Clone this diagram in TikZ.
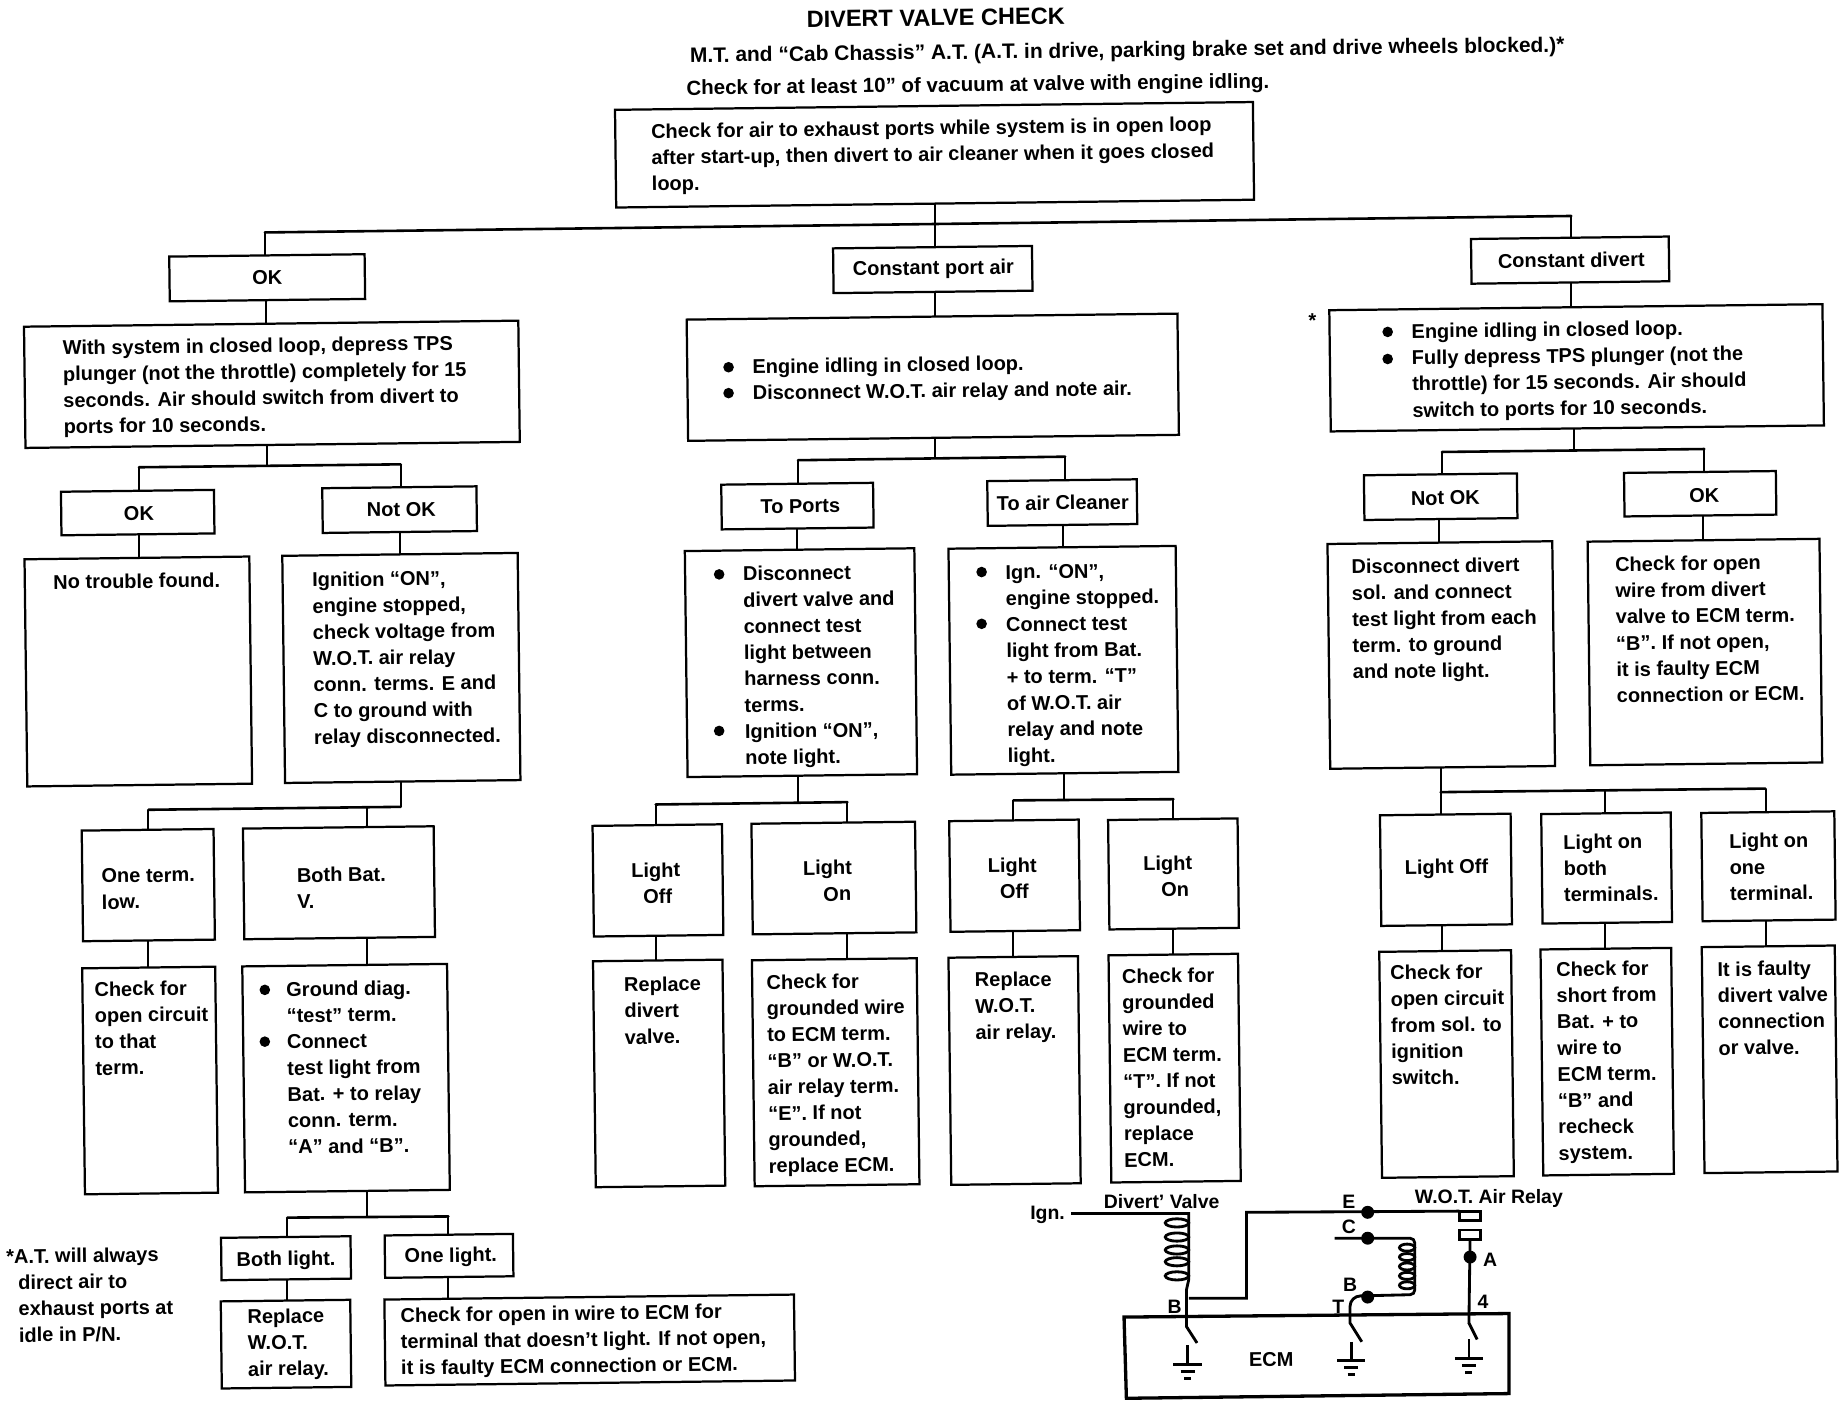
\documentclass[tikz,border=0pt]{standalone}
\usepackage{fontspec}
\setmainfont{Liberation Sans}
\usetikzlibrary{positioning,calc,backgrounds}
\tikzset{
  box/.style={draw,fill=white,line width=1.9pt,inner sep=0pt,anchor=center,rotate=0.7},
  wire/.style={line width=1.7pt},
  lbl/.style={inner sep=0pt,anchor=center,rotate=0.7,font=\fontsize{17}{22.3}\bfseries\selectfont},
  txt/.style={inner sep=0pt,anchor=north west,align=left,yshift=7pt,rotate=0.7,font=\fontsize{17}{22.3}\bfseries\selectfont},
  pin/.style={inner sep=0pt,anchor=center,font=\fontsize{16.5}{20}\bfseries\selectfont},
}
\begin{document}
\begin{tikzpicture}[x=1pt,y=-1pt]
  \useasboundingbox (0,0) rectangle (1565,1196);
  % heading
  \node[lbl,font=\fontsize{20}{22}\bfseries\selectfont] (title) at (795,15) {DIVERT VALVE CHECK};
  \node[txt,font=\fontsize{17.8}{22}\bfseries\selectfont] (subA) at (586,47) {M.T. and “Cab Chassis” A.T. (A.T. in drive, parking brake set and drive wheels blocked.)*};
  \node[txt,font=\fontsize{17.4}{22}\bfseries\selectfont] (subB) at (583,75) {Check for at least 10” of vacuum at valve with engine idling.};
  % boxes
  \foreach \nm/\xa/\ya/\xb/\yb in {root/523/90/1065/173,
    okA/144/217/310/255, cport/708/210/877/248, cdiv/1250/202/1418/240,
    sysA/21/275/441/378, engA/584/269/1001/372, engB/1130/261/1549/364,
    okB/52/417/182/454, nokA/274/414/405/452, toport/613/411/742/449, toair/839/408/966/446, nokB/1159/403/1289/441, okC/1380/401/1509/438,
    notrb/22/474/213/667, ignA/241/471/441/664, discA/583/467/778/659, ignB/807/465/1000/657, discB/1129/461/1320/652, opnA/1350/459/1547/649,
    oneA/70/705/182/799, bothA/207/703/369/797, offA/504/701/614/795, onA/639/699/778/793, offB/807/697/917/791, onB/942/696/1052/789, offC/1173/692/1284/786, onC/1310/691/1420/784, onD/1446/690/1559/782,
    circA/71/822/184/1014, gndA/207/820/381/1012, repA/505/816/615/1008, grdA/640/815/780/1007, repB/807/813/917/1006, grdB/943/811/1053/1004, circB/1173/808/1285/1000, shrt/1310/806/1421/998, faul/1447/804/1560/996,
    blgt/188/1051/298/1087, olgt/327/1049/436/1085, repC/188/1105/298/1179, opnB/327/1102/675/1175} {
    \node[box,minimum width={(\xb-\xa)*1pt},minimum height={(\yb-\ya)*1pt}] (\nm) at ({(\xa+\xb)/2},{(\ya+\yb)/2}) {};
  }
  % short labels
  \foreach \nm/\xa/\ya/\lab in {okAt/227/236/OK, cportt/793/229/Constant port air, cdivt/1335/221/Constant divert,
    okBt/118/436/OK, nokAt/341/433/Not OK, toportt/680/430/To Ports, toairt/903/427/To air Cleaner, nokBt/1228/423/Not OK, okCt/1448/421/OK,
    offCt/1229/738/Light Off, blgtt/243/1071/Both light., olgtt/383/1068/One light.} {
    \node[lbl] (\nm) at (\xa,\ya) {\lab};
  }
  % long texts, first line centre given
  \foreach \nm/\xa/\ya/\lab in {
    rootx/553/112/{Check for air to exhaust ports while system is in open loop\\after start-up, then divert to air cleaner when it goes closed\\loop.},
    sysx/53/296/{With system in closed loop, depress TPS\\plunger (not the throttle) completely for 15\\seconds.  Air should switch from divert to\\ports for 10 seconds.},
    engAx/639/312/{Engine idling in closed loop.\\Disconnect W.O.T. air relay and note air.},
    engBx/1199/282/{Engine idling in closed loop.\\Fully depress TPS plunger (not the\\throttle) for 15 seconds.  Air should\\switch to ports for 10 seconds.},
    notrbx/45/495/{No trouble found.},
    ignAx/265/493/{Ignition “ON”,\\engine stopped,\\check voltage from\\W.O.T. air relay\\conn. terms. E and\\C to ground with\\relay disconnected.},
    discAx/631/488/{Disconnect\\divert valve and\\connect test\\light between\\harness conn.\\terms.\\Ignition “ON”,\\note light.},
    ignBx/854/487/{Ign. “ON”,\\engine stopped.\\Connect test\\light from Bat.\\+ to term. “T”\\of W.O.T. air\\relay and note\\light.},
    discBx/1148/482/{Disconnect divert\\sol. and connect\\test light from each\\term. to ground\\and note light.},
    opnAx/1372/480/{Check for open\\wire from divert\\valve to ECM term.\\“B”.  If not open,\\it is faulty ECM\\connection or ECM.},
    oneAx/86/745/{One term.\\low.},
    bothAx/252/744/{Both Bat.\\V.},
    offAx/536/740/{Light\\\hspace*{10pt}Off},
    onAx/682/738/{Light\\\hspace*{17pt}On},
    offBx/839/736/{Light\\\hspace*{10pt}Off},
    onBx/971/734/{Light\\\hspace*{15pt}On},
    onCx/1328/716/{Light on\\both\\terminals.},
    onDx/1469/715/{Light on\\one\\terminal.},
    circAx/80/841/{Check for\\open circuit\\to that\\term.},
    gndAx/243/841/{Ground diag.\\“test” term.\\Connect\\test light from\\Bat. + to relay\\conn. term.\\“A” and “B”.},
    repAx/530/837/{Replace\\divert\\valve.},
    grdAx/651/835/{Check for\\grounded wire\\to ECM term.\\“B” or W.O.T.\\air relay term.\\“E”. If not\\grounded,\\replace ECM.},
    repBx/828/833/{Replace\\W.O.T.\\air relay.},
    grdBx/953/830/{Check for\\grounded\\wire to\\ECM term.\\“T”.  If not\\grounded,\\replace\\ECM.},
    circBx/1181/827/{Check for\\open circuit\\from sol. to\\ignition\\switch.},
    shrtx/1322/824/{Check for\\short from\\Bat. + to\\wire to\\ECM term.\\“B” and\\recheck\\system.},
    faulx/1459/824/{It is faulty\\divert valve\\connection\\or valve.},
    repCx/210/1119/{Replace\\W.O.T.\\air relay.},
    opnBx/340/1118/{Check for open in wire to ECM for\\terminal that doesn’t light.  If not open,\\it is faulty ECM connection or ECM.},
    footx/5/1068/{*A.T. will always\\\hspace*{10pt}direct air to\\\hspace*{10pt}exhaust ports at\\\hspace*{10pt}idle in P/N.}} {
    \node[txt] (\nm) at (\xa,\ya) {\lab};
  }
  \node[lbl] (star) at (1115,272) {*};
  % bullets
  \foreach \xa/\ya in {619/312,619/334,1179/282,1179/305,611/488,611/621,834/486,834/530,225/841,225/885} {
    \fill (\xa,\ya) circle(4.5pt);
  }
  \begin{scope}[on background layer]
    % straight drops between boxes
    \foreach \a/\b/\xx in {root/cport/794, okA/sysA/226, cport/engA/794, cdiv/engB/1335,
      okB/notrb/118, nokA/ignA/340, toport/discA/677, toair/ignB/903, nokB/discB/1223, okC/opnA/1447,
      oneA/circA/126, bothA/gndA/312, offA/repA/557, onA/grdA/720, offB/repB/861, onB/grdB/997, offC/circB/1225, onC/shrt/1364, onD/faul/1500,
      blgt/repC/244, olgt/opnB/381} {
      \draw[wire,shorten <=-5pt,shorten >=-5pt] (\a.south -| \xx,0) -- (\b.north -| \xx,0);
    }
    % busses: name, left end, right end
    \foreach \bs/\xa/\ya/\xb/\yb in {busA/225/197.5/1335/183.5, busB/118/397/340.5/394.5, busC/678/391/905/388, busD/1225/384/1448/381.5,
      busE/126/688/340.5/685.5, busF/557/683.5/720/681.5, busG/861/680/997/679, busH/1224/673/1500/670, busI/244/1034.5/381/1033.5} {
      \coordinate (\bs l) at (\xa,\ya);
      \coordinate (\bs r) at (\xb,\yb);
      \draw[wire,line width=2.2pt,line cap=round] (\bs l) -- (\bs r);
    }
    \foreach \bs/\kid/\sd in {busA/okA/l, busA/cdiv/r, busB/okB/l, busB/nokA/r, busC/toport/l, busC/toair/r, busD/nokB/l, busD/okC/r,
      busE/oneA/l, busF/offA/l, busF/onA/r, busG/offB/l, busG/onB/r, busH/offC/l, busH/onD/r, busI/blgt/l, busI/olgt/r} {
      \draw[wire,shorten >=-5pt] (\bs\sd) -- (\kid.north -| \bs\sd);
    }
    \coordinate (busEm) at (312,686);
    \coordinate (busHm) at (1364,671);
    \draw[wire,shorten >=-5pt] (busEm) -- (bothA.north -| busEm);
    \draw[wire,shorten >=-5pt] (busHm) -- (onC.north -| busHm);
    % stems from a box to its bus
    \foreach \a/\xx/\yy in {sysA/227/396, engA/794/390, engB/1337/383, ignA/340.5/686, discA/678/682.5, ignB/904/680, discB/1224/673, gndA/312/1034} {
      \coordinate (stem\a) at (\xx,\yy);
      \draw[wire,shorten <=-5pt] (\a.south -| stem\a) -- (stem\a);
    }
  \end{scope}
  % the circuit
  \begin{scope}[line width=2.4pt]
    \draw[line width=2.8pt] (955,1119) -- (1282,1116) -- (1282,1184) -- (957,1188) -- cycle;
    \node[lbl] (ecm) at (1080,1155) {ECM};
    \node[pin] (ign) at (890,1032) {Ign.};
    \node[pin] (dvlv) at (987,1021) {Divert’ Valve};
    \node[pin] (wot) at (1265,1018) {W.O.T. Air Relay};
    \node[pin] (pE) at (1146,1021) {E};
    \node[pin] (pC) at (1146,1042) {C};
    \node[pin] (pBa) at (1147,1092) {B};
    \node[pin] (pT) at (1137,1110) {T};
    \node[pin] (pBb) at (998,1110) {B};
    \node[pin] (pA) at (1266,1070) {A};
    \node[pin] (pf) at (1260,1106) {4};
    % valve coil
    \draw (910,1031) -- (1010,1031) -- (1010,1087) -- (1008,1096) -- (1008,1127) -- (1017,1141);
    \foreach \ya in {1039,1051,1062,1072,1084} { \draw (1000,\ya) ellipse (10pt and 3.5pt); }
    % relay coil
    \draw (1134,1052) -- (1198,1052) to[out=0,in=90] (1202,1056) -- (1202,1096) to[out=-90,in=0] (1198,1100) -- (1156,1101) to[out=180,in=90] (1147,1110) -- (1147,1124) -- (1157,1140);
    \foreach \ya in {1060,1068,1076,1084,1092} { \draw (1195.5,\ya) ellipse (6.5pt and 3pt); }
    % wire E, contact, A
    \draw (1010,1103) -- (1059,1103) -- (1059,1030) -- (1240,1029);
    \draw (1240,1029) rectangle (1258,1037);
    \draw (1240,1045) rectangle (1258,1053);
    \draw (1249,1053) -- (1248,1124) -- (1255,1138);
    \foreach \xa/\ya in {1162/1030,1162/1052,1162/1102,1249/1068} { \fill (\xa,\ya) circle(5.5pt); }
    % grounds
    \foreach \xa/\ya in {1009/1143,1148/1140,1248/1138} {
      \draw (\xa,\ya) -- (\xa,\ya+16);
      \draw (\xa-12,\ya+16) -- (\xa+12,\ya+16);
      \draw (\xa-6,\ya+22) -- (\xa+6,\ya+22);
      \draw (\xa-3,\ya+28) -- (\xa+3,\ya+28);
    }
  \end{scope}
\end{tikzpicture}
\end{document}
